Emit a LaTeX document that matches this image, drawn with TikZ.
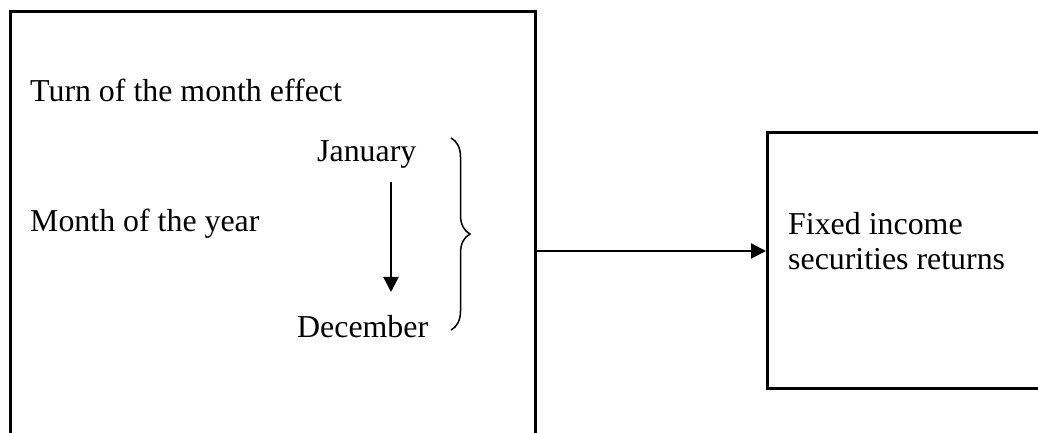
\documentclass[tikz,border=0pt]{standalone}
\usepackage{fontspec}
\setmainfont{Liberation Serif}
\usetikzlibrary{arrows.meta,decorations.pathreplacing}

\tikzset{
  box/.style={draw, line width=2.8bp, anchor=north west, inner sep=0pt},
  lbl/.style={anchor=base west, inner sep=0pt, font=\fontsize{32}{36}\selectfont},
  arr/.style={line width=2.2bp, -{Triangle[length=15bp,width=15bp]}}
}

\begin{document}
\begin{tikzpicture}[x=1bp,y=-1bp]

\useasboundingbox (0,0) rectangle (1038,433);

% the two boxes, cut by the page edge
\node[box, minimum width=525bp, minimum height=480bp] (lbox) at (9,10) {};
\node[box, minimum width=300bp, minimum height=256bp] (rbox) at (766,131) {};

\node[lbl] (turn) at (30,102) {Turn of the month effect};
\node[lbl] (month) at (30,232) {Month of the year};
\node[lbl] (jan) at (317,162) {January};
\node[lbl] (dec) at (297,338) {December};
\node[lbl, align=left] (fixed) at (788,270) {Fixed income\\securities returns};

% January to December
\coordinate (jtop) at (391,182);
\coordinate (dbot) at (391,292);
\draw[arr] (jtop) -- (dbot);

% brace
\draw[line width=1.5bp, decorate, decoration={brace, amplitude=19bp}] (451,138) -- (451,330);

% to the returns
\coordinate (ay) at (0,251);
\draw[arr] (lbox.east |- ay) -- (rbox.west |- ay);

\end{tikzpicture}
\end{document}
